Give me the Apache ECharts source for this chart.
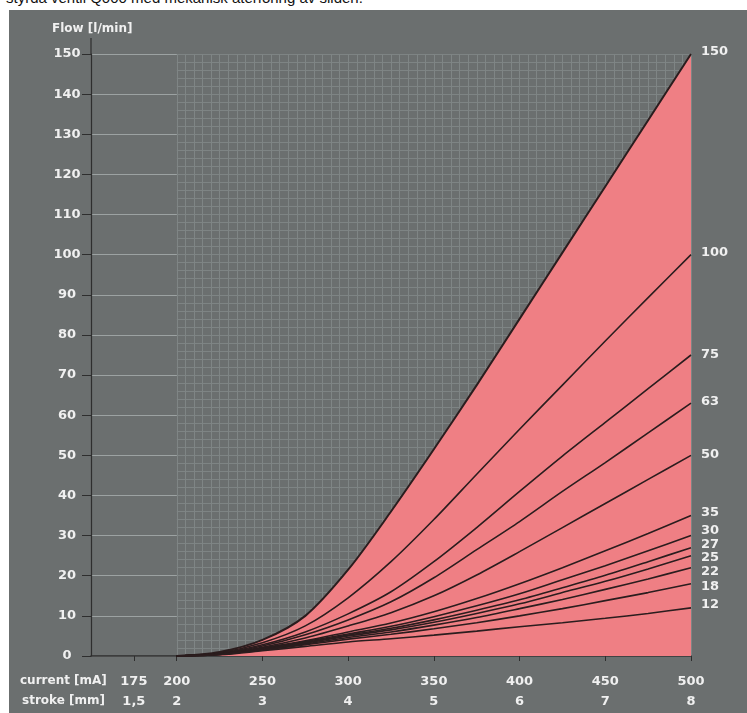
<!DOCTYPE html>
<html>
<head>
<meta charset="utf-8">
<title>Flow vs current</title>
<script src="https://cdn.jsdelivr.net/npm/echarts@6/dist/echarts.min.js"></script>
<style>
  html, body { margin: 0; padding: 0; background: #ffffff; }
  #wrap { position: relative; width: 747px; height: 713px; overflow: hidden; }
  #panel { position: absolute; left: 9px; top: 10px; right: 0; bottom: 0; background: #6b6f6f; }
  #chart { position: absolute; left: 0; top: 0; width: 747px; height: 713px; }
  #caption { position: absolute; left: 6px; top: -11px; font: 15px "Liberation Sans", Arial, sans-serif; color: #111; white-space: nowrap; }
</style>
</head>
<body>
<div id="wrap">
  <div id="panel"></div>
  <div id="caption">styrda ventil Q000 med mekanisk återföring av sliden.</div>
  <div id="chart"></div>
</div>
<script>
// Solenoid current [mA] at which each flow curve is sampled
const currents = [200, 225, 250, 275, 300, 325, 350, 375, 400, 425, 450, 475, 500];

// Flow [l/min] per nominal size, one value per current above
const flow150 = [0, 1.0, 4.0, 10.0, 21.5, 36.0, 51.5, 67.5, 84.0, 100.5, 117.0, 133.5, 150];
const flow100 = [0, 0.8, 3.3, 7.5, 14.5, 23.5, 34.0, 45.3, 56.5, 67.5, 78.5, 89.3, 100];
const flow75  = [0, 0.7, 2.8, 6.0, 10.5, 16.0, 23.5, 32.0, 41.0, 49.8, 58.2, 66.6, 75];
const flow63  = [0, 0.6, 2.5, 5.3, 9.0, 13.5, 19.5, 26.5, 33.5, 41.0, 48.2, 55.6, 63];
const flow50  = [0, 0.5, 2.2, 4.5, 7.5, 10.8, 15.0, 20.2, 26.0, 32.0, 38.0, 44.0, 50];
const flow35  = [0, 0.5, 2.0, 3.8, 6.0, 8.2, 11.0, 14.3, 18.0, 22.0, 26.2, 30.5, 35];
const flow30  = [0, 0.5, 1.9, 3.6, 5.5, 7.4, 9.8, 12.5, 15.5, 19.0, 22.5, 26.2, 30];
const flow27  = [0, 0.5, 1.8, 3.4, 5.2, 6.9, 9.0, 11.4, 14.0, 17.0, 20.1, 23.5, 27];
const flow25  = [0, 0.4, 1.7, 3.2, 5.0, 6.5, 8.4, 10.6, 13.0, 15.8, 18.6, 21.7, 25];
const flow22  = [0, 0.4, 1.6, 3.0, 4.6, 6.0, 7.7, 9.6, 11.8, 14.1, 16.6, 19.2, 22];
const flow18  = [0, 0.4, 1.5, 2.8, 4.2, 5.4, 6.8, 8.3, 10.0, 11.8, 13.8, 15.8, 18];
const flow12  = [0, 0.3, 1.3, 2.4, 3.5, 4.3, 5.2, 6.2, 7.3, 8.3, 9.4, 10.6, 12];

const curveNames = ['150', '100', '75', '63', '50', '35', '30', '27', '25', '22', '18', '12'];
const curveValues = [flow150, flow100, flow75, flow63, flow50, flow35, flow30, flow27, flow25, flow22, flow18, flow12];

// Bottom axis: current ticks and the matching spool stroke
const currentTicks = [175, 200, 250, 300, 350, 400, 450, 500];
const strokeLabels = ['1,5', '2', '3', '4', '5', '6', '7', '8'];

// vertical nudge of each end label so the crowded ones stay readable
const endLabelShift = [-2, -2, 0, -2, -1, -3, -5, -3, 2, 4, 3, -3];

const FONT = '"DejaVu Sans", Verdana, sans-serif';
const TEXT = '#f0f0f0';
const PINK = '#ef7f84';
const AXIS = '#2e2e2e';

const chart = echarts.init(document.getElementById('chart'), null, { renderer: 'canvas' });

const series = curveNames.map((name, k) => ({
  name: name,
  type: 'line',
  xAxisIndex: 0,
  yAxisIndex: 0,
  data: currents.map((c, i) => [c, curveValues[k][i]]),
  smooth: 0.3,
  showSymbol: false,
  symbol: 'none',
  silent: true,
  z: k === 0 ? 2 : 3,
  lineStyle: { color: '#2b1d1e', width: k === 0 ? 2 : 1.6 },
  areaStyle: k === 0 ? { color: PINK, opacity: 1 } : undefined,
  endLabel: {
    show: true,
    formatter: '{a}',
    color: TEXT,
    fontFamily: FONT,
    fontSize: 13,
    fontWeight: 'bold',
    distance: 10,
    offset: [0, endLabelShift[k]]
  }
}));

chart.setOption({
  animation: false,
  backgroundColor: 'transparent',
  grid: [
    { left: 91, right: 56, top: 54, bottom: 57, containLabel: false },
    // fine graph-paper region from 200 mA onwards
    { left: 176.8, right: 56, top: 54, bottom: 57, containLabel: false }
  ],
  xAxis: [
    {
      gridIndex: 0,
      type: 'value',
      min: 150,
      max: 500,
      axisLine: { show: true, onZero: false, lineStyle: { color: AXIS, width: 1.5 } },
      axisTick: { show: true, customValues: currentTicks, length: 5, lineStyle: { color: AXIS } },
      axisLabel: {
        show: true,
        customValues: currentTicks,
        margin: 16,
        color: TEXT,
        fontFamily: FONT,
        fontSize: 13,
        fontWeight: 'bold',
        lineHeight: 20,
        formatter: (v) => {
          const i = currentTicks.indexOf(v);
          return v + '\n' + (i >= 0 ? strokeLabels[i] : '');
        }
      },
      splitLine: { show: false }
    },
    {
      gridIndex: 1,
      type: 'value',
      min: 200,
      max: 500,
      interval: 5,
      axisLine: { show: false },
      axisTick: { show: false },
      axisLabel: { show: false },
      splitLine: { show: true, lineStyle: { color: '#7f8585', width: 1 } }
    }
  ],
  yAxis: [
    {
      gridIndex: 0,
      type: 'value',
      min: 0,
      max: 150,
      interval: 10,
      axisLine: { show: true, onZero: false, lineStyle: { color: AXIS, width: 1.2 } },
      axisTick: { show: true, length: 9, lineStyle: { color: AXIS } },
      axisLabel: { margin: 24, align: 'center', color: TEXT, fontFamily: FONT, fontSize: 13, fontWeight: 'bold' },
      splitLine: { show: true, lineStyle: { color: '#9ca2a2', width: 1 } }
    },
    {
      gridIndex: 1,
      type: 'value',
      min: 0,
      max: 150,
      interval: 2,
      axisLine: { show: false },
      axisTick: { show: false },
      axisLabel: { show: false },
      splitLine: { show: true, lineStyle: { color: '#7e8484', width: 1 } }
    }
  ],
  graphic: [
    // the flow axis runs a little past its last tick, up to its title
    { type: 'line', shape: { x1: 91, y1: 38, x2: 91, y2: 54 }, style: { stroke: AXIS, lineWidth: 1.2 }, silent: true },
    { type: 'text', left: 52, top: 23, style: { text: 'Flow [l/min]', fill: TEXT, font: 'bold 12px ' + FONT } },
    { type: 'text', left: 20, top: 675, style: { text: 'current [mA]', fill: TEXT, font: 'bold 12px ' + FONT } },
    { type: 'text', left: 22, top: 695, style: { text: 'stroke [mm]', fill: TEXT, font: 'bold 12px ' + FONT } }
  ],
  series: series
});
</script>
</body>
</html>
